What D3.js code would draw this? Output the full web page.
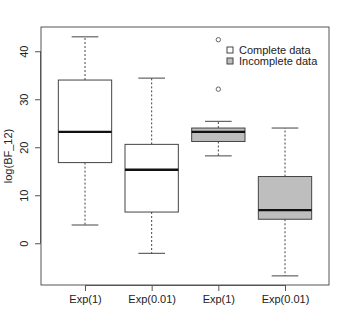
<!DOCTYPE html>
<html>
<head>
<meta charset="utf-8">
<script src="https://cdn.jsdelivr.net/npm/d3@7"></script>
<style>
  body { margin: 0; background: #fff; }
  text { font-family: "Liberation Sans", Arial, sans-serif; }
</style>
</head>
<body>
<svg width="350" height="323"></svg>
<script>
// Data
const groups = ["Exp(1)", "Exp(0.01)", "Exp(1)", "Exp(0.01)"];
const dataType = ["Complete", "Complete", "Incomplete", "Incomplete"];
const whiskerLow = [3.8, -2.1, 18.2, -6.8];
const q1 = [16.8, 6.5, 21.2, 5.0];
const median = [23.2, 15.3, 23.2, 6.9];
const q3 = [34.0, 20.6, 24.0, 13.9];
const whiskerHigh = [43.0, 34.4, 25.4, 24.0];
const outliers = [[], [], [42.4, 32.1], []];
const yTicks = [0, 10, 20, 30, 40];
const legendLabels = ["Complete data", "Incomplete data"];

let svg = d3.select("svg");

// plot region
const pLeft = 41, pRight = 329, pTop = 27, pBottom = 285;

let x = d3.scaleLinear().domain([0.34, 4.66]).range([pLeft, pRight]);
let y = d3.scaleLinear().domain([-8.7, 45.05]).range([pBottom, pTop]);
let fill = d3.scaleOrdinal().domain(["Complete", "Incomplete"]).range(["#ffffff", "#bebebe"]);

const stroke = "#444";
const fs = 11;
let boxes = groups.map((g, i) => ({
  i: i + 1, lab: g, type: dataType[i],
  lo: whiskerLow[i], q1: q1[i], med: median[i], q3: q3[i], hi: whiskerHigh[i],
  out: outliers[i]
}));

let g = svg.append("g");

// whiskers (dashed), boxes, medians, outliers
boxes.forEach(d => {
  g.append("line").attr("x1", x(d.i)).attr("x2", x(d.i))
    .attr("y1", y(d.q3)).attr("y2", y(d.hi))
    .attr("stroke", stroke).attr("stroke-dasharray", "2,2");
  g.append("line").attr("x1", x(d.i)).attr("x2", x(d.i))
    .attr("y1", y(d.q1)).attr("y2", y(d.lo))
    .attr("stroke", stroke).attr("stroke-dasharray", "2,2");
  [d.lo, d.hi].forEach(v => {
    g.append("line").attr("x1", x(d.i - 0.2)).attr("x2", x(d.i + 0.2))
      .attr("y1", y(v)).attr("y2", y(v)).attr("stroke", stroke);
  });
  g.append("rect")
    .attr("x", x(d.i - 0.4)).attr("width", x(d.i + 0.4) - x(d.i - 0.4))
    .attr("y", y(d.q3)).attr("height", y(d.q1) - y(d.q3))
    .attr("fill", fill(d.type)).attr("stroke", stroke);
  g.append("line").attr("x1", x(d.i - 0.4)).attr("x2", x(d.i + 0.4))
    .attr("y1", y(d.med)).attr("y2", y(d.med))
    .attr("stroke", "#111").attr("stroke-width", 2.4);
  d.out.forEach(v => {
    g.append("circle").attr("cx", x(d.i)).attr("cy", y(v)).attr("r", 2.2)
      .attr("fill", "none").attr("stroke", stroke).attr("stroke-width", 0.8);
  });
});

// frame
svg.append("rect").attr("x", pLeft).attr("y", pTop)
  .attr("width", pRight - pLeft).attr("height", pBottom - pTop)
  .attr("fill", "none").attr("stroke", "#555");

// y axis
let yAxis = svg.append("g").attr("transform", `translate(${pLeft},0)`)
  .call(d3.axisLeft(y).tickValues(yTicks).tickSize(6).tickFormat(d3.format("d")));
yAxis.select(".domain").attr("d", `M-0.5,${y(40)}V${y(0)}`).attr("stroke", "#555");
yAxis.selectAll(".tick line").attr("stroke", "#555");
yAxis.selectAll(".tick text")
  .attr("font-size", fs).attr("fill", "#222")
  .attr("x", null).attr("dy", null)
  .attr("text-anchor", "middle")
  .attr("transform", "translate(-13,0) rotate(-90)");

// x axis
let xAxis = svg.append("g").attr("transform", `translate(0,${pBottom})`)
  .call(d3.axisBottom(x).tickValues(boxes.map(d => d.i)).tickSize(6)
    .tickFormat((d, i) => groups[i]));
xAxis.select(".domain").attr("d", `M${x(1)},0.5H${x(4)}`).attr("stroke", "#555");
xAxis.selectAll(".tick line").attr("stroke", "#555");
xAxis.selectAll(".tick text").attr("font-size", fs).attr("fill", "#222").attr("y", 10);

// y label
svg.append("text")
  .attr("transform", `translate(12,${(pTop + pBottom) / 2}) rotate(-90)`)
  .attr("text-anchor", "middle").attr("font-size", fs).attr("fill", "#222")
  .text("log(BF_12)");

// legend
let leg = svg.append("g").attr("transform", "translate(227,47)");
legendLabels.forEach((t, i) => {
  leg.append("rect").attr("x", 0).attr("y", i * 11).attr("width", 6).attr("height", 6)
    .attr("fill", fill(["Complete", "Incomplete"][i])).attr("stroke", stroke);
  leg.append("text").attr("x", 12).attr("y", i * 11 + 7)
    .attr("font-size", fs).attr("fill", "#222").text(t);
});
</script>
</body>
</html>
